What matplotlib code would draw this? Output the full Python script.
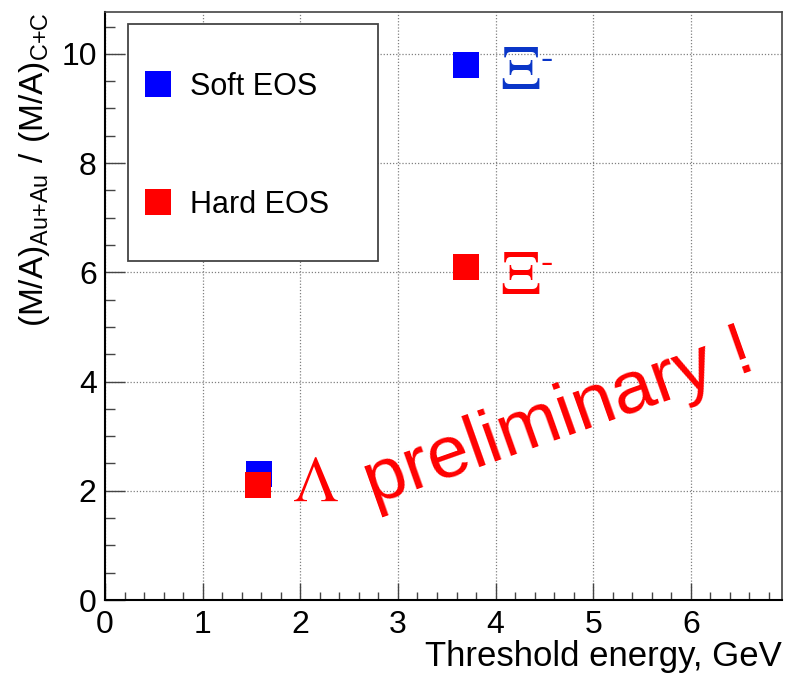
import matplotlib
matplotlib.use("Agg")
import matplotlib.pyplot as plt
from matplotlib.patches import Rectangle
from matplotlib.ticker import MultipleLocator

plt.rcParams['font.family'] = ['Liberation Sans', 'DejaVu Sans']
plt.rcParams['mathtext.fontset'] = 'custom'
plt.rcParams['mathtext.rm'] = 'Liberation Sans'

# Threshold energies (GeV) and yield ratios for each EOS
soft_x = [1.58, 3.70]
soft_y = [2.31, 9.80]
hard_x = [1.57, 3.70]
hard_y = [2.11, 6.10]
series_labels = ["Soft EOS", "Hard EOS"]

x_ticks = [0, 1, 2, 3, 4, 5, 6]
y_ticks = [0, 2, 4, 6, 8, 10]

fig = plt.figure(figsize=(7.86, 6.77), dpi=100)
ax = fig.add_axes([0.1336, 0.1137, 0.8609, 0.8681])
ax.set_xlim(0, 6.93)
ax.set_ylim(0, 10.76)

ax.grid(True, which='major', color='#808080', linestyle=(0, (1, 1.5)), linewidth=0.9)
ax.set_axisbelow(True)

ms = 18.7
ax.plot(soft_x, soft_y, 's', color='#0000ff', markersize=ms, markeredgewidth=0,
        label=series_labels[0], zorder=3)
ax.plot(hard_x, hard_y, 's', color='#ff0000', markersize=ms, markeredgewidth=0,
        label=series_labels[1], zorder=4)

ax.xaxis.set_major_locator(MultipleLocator(1))
ax.xaxis.set_minor_locator(MultipleLocator(0.2))
ax.yaxis.set_major_locator(MultipleLocator(2))
ax.yaxis.set_minor_locator(MultipleLocator(0.5))
ax.set_xticks(x_ticks)
ax.set_yticks(y_ticks)
ax.tick_params(axis='both', which='both', direction='in', top=False, right=False,
               color='#444444', width=1.0, labelsize=23)
ax.tick_params(axis='x', which='major', length=12.2, pad=7)
ax.tick_params(axis='x', which='minor', length=5.8)
ax.tick_params(axis='y', which='major', length=14.4, pad=6)
ax.tick_params(axis='y', which='minor', length=7.2)

for side in ('left', 'bottom'):
    ax.spines[side].set_color('black')
    ax.spines[side].set_linewidth(1.5)
for side in ('top', 'right'):
    ax.spines[side].set_color('#444444')
    ax.spines[side].set_linewidth(1.2)

ax.set_xlabel("Threshold energy, GeV", fontsize=25, loc='right')
ax.xaxis.set_label_coords(1.0, -0.068)
ax.set_ylabel(r"$\mathregular{(M/A)_{Au{+}Au}\ /\ (M/A)_{C{+}C}}$", fontsize=24, loc='top')
ax.yaxis.set_label_coords(-0.078, 1.0)

# particle labels
ax.text(2.157, 1.795, "Λ", color='#ff0000', fontsize=47, family='STIXGeneral',
        ha='center', va='baseline', zorder=5)
xi_colors = ['#0a36c8', '#ff0000']
xi_base = [9.372, 5.617]
xi_minus = [9.89, 6.15]
for c, yb, ym in zip(xi_colors, xi_base, xi_minus):
    ax.text(4.249, yb, "Ξ", color=c, fontsize=45, family='STIXGeneral',
            ha='center', va='baseline', zorder=5)
    ax.text(4.46, ym, "-", color=c, fontsize=27, family='STIXGeneral',
            ha='left', va='center', zorder=5)

ax.text(2.74, 1.74, "preliminary !", color='#ff0000', fontsize=54, rotation=19.5,
        rotation_mode='anchor', ha='left', va='baseline', zorder=5)

# legend with its own frame
ax.add_patch(Rectangle((0.0335, 0.577), 0.3695, 0.403, transform=ax.transAxes,
                       facecolor='white', edgecolor='#444444', linewidth=1.3, zorder=6))
leg = ax.legend(loc='upper left', bbox_to_anchor=(0.0553, 0.8985), borderaxespad=0,
                borderpad=0, frameon=False, fontsize=22, handlelength=1.0,
                handletextpad=0.57, labelspacing=2.87, markerscale=1.0)
leg.set_zorder(7)

fig.savefig("out.png", dpi=100)
